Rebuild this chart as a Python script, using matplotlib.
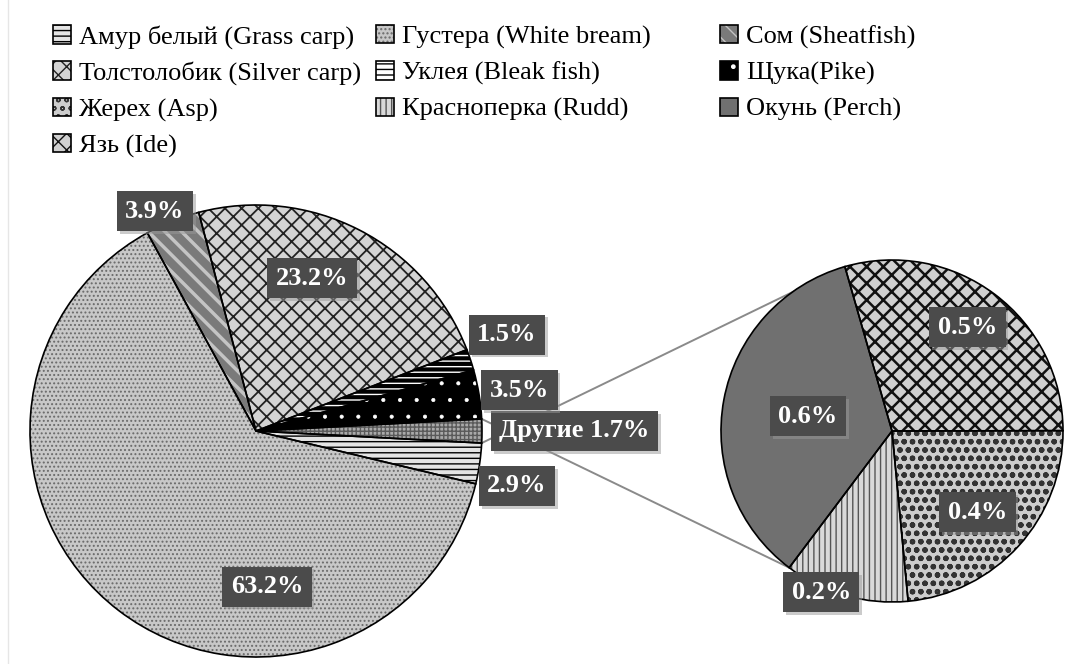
import numpy as np
import matplotlib.pyplot as plt
import matplotlib.patheffects as pe

plt.rcParams['font.family'] = 'serif'
plt.rcParams['font.serif'] = ['Liberation Serif', 'DejaVu Serif']

# main pie, counterclockwise starting from the "other" slice
main_names = ["Другие", "Щука(Pike)", "Уклея (Bleak fish)", "Толстолобик (Silver carp)",
              "Сом (Sheatfish)", "Густера (White bream)", "Амур белый (Grass carp)"]
main_values = [1.7, 3.5, 1.5, 23.2, 3.9, 63.2, 2.9]

# secondary pie ("other" split), clockwise
sub_names = ["Язь (Ide)", "Жерех (Asp)", "Красноперка (Rudd)", "Окунь (Perch)"]
sub_values = [0.5, 0.4, 0.2, 0.6]

legend_cols = [
    ["Амур белый (Grass carp)", "Толстолобик (Silver carp)", "Жерех (Asp)", "Язь (Ide)"],
    ["Густера (White bream)", "Уклея (Bleak fish)", "Красноперка (Rudd)"],
    ["Сом (Sheatfish)", "Щука(Pike)", "Окунь (Perch)"],
]

# face colour, hatch, hatch colour, hatch linewidth
styles = {
    "Другие": ("#a9a9a9", "++++", "#5a5a5a", 1.0),
    "Щука(Pike)": ("#000000", ".", "#ffffff", 0.5),
    "Уклея (Bleak fish)": ("#ffffff", "---", "#000000", 3.0),
    "Толстолобик (Silver carp)": ("#d4d4d4", "xx", "#222222", 1.3),
    "Сом (Sheatfish)": ("#7a7a7a", r"\\", "#c4c4c4", 2.5),
    "Густера (White bream)": ("#c8c8c8", "....", "#6a6a6a", 0.9),
    "Амур белый (Grass carp)": ("#e4e4e4", "---", "#000000", 1.0),
    "Язь (Ide)": ("#d0d0d0", r"//\\", "#111111", 1.8),
    "Жерех (Asp)": ("#cdcdcd", "oo", "#333333", 1.6),
    "Красноперка (Rudd)": ("#d9d9d9", "|||", "#555555", 1.0),
    "Окунь (Perch)": ("#707070", "", "#707070", 1.0),
}

# label placement: (angle in degrees, distance as fraction of radius)
main_label_pos = [(0, 1.41), (8.8, 1.18), (21, 1.19), (69.8, 0.72), (114.7, 1.07), (-86, 0.69), (-11.9, 1.18)]
sub_label_pos = [(54, 0.75), (-43.6, 0.69), (-113.7, 1.03), (170, 0.5)]

W, H = 1069, 664
fig = plt.figure(figsize=(W / 100, H / 100), dpi=100)
ax = fig.add_axes([0, 0, 1, 1])

main_c, main_r = (256, 233), 226
sub_c, sub_r = (892, 233), 171


def layered_pie(values, names, center, radius, start, ccw):
    kw = dict(center=center, radius=radius, startangle=start, counterclock=ccw)
    base, _ = ax.pie(values, colors=[styles[n][0] for n in names],
                     wedgeprops=dict(linewidth=0), **kw)
    hatch, _ = ax.pie(values, wedgeprops=dict(facecolor='none', linewidth=0), **kw)
    for w, n in zip(hatch, names):
        face, h, hc, hlw = styles[n]
        w.set_edgecolor(hc)
        w.set_hatch(h)
        if hasattr(w, 'set_hatch_linewidth'):
            w.set_hatch_linewidth(hlw)
    outline, _ = ax.pie(values, wedgeprops=dict(facecolor='none', edgecolor='black', linewidth=1.2), **kw)
    for w in base:
        w.set_zorder(1)
    for w in hatch:
        w.set_zorder(2)
    for w in outline:
        w.set_zorder(3)
    return base, hatch, outline


main_start = -main_values[0] / sum(main_values) * 360 / 2
mb, mh, mo = layered_pie(main_values, main_names, main_c, main_r, main_start, True)
sb, sh, so = layered_pie(sub_values, sub_names, sub_c, sub_r, 106, False)

handles = {}
for n, b, h, o in zip(main_names + sub_names, mb + sb, mh + sh, mo + so):
    handles[n] = (b, h, o)

# connector lines from the "other" slice to the secondary pie
other = mb[0]
perch = sb[3]
for a_main, a_sub in [(other.theta2, perch.theta2), (other.theta1, perch.theta1)]:
    x0 = main_c[0] + main_r * np.cos(np.radians(a_main))
    y0 = main_c[1] + main_r * np.sin(np.radians(a_main))
    x1 = sub_c[0] + sub_r * np.cos(np.radians(a_sub))
    y1 = sub_c[1] + sub_r * np.sin(np.radians(a_sub))
    ax.plot([x0, x1], [y0, y1], color='#8a8a8a', lw=1.4, zorder=0.5)


def add_label(text, center, radius, ang, dist):
    x = center[0] + radius * dist * np.cos(np.radians(ang))
    y = center[1] + radius * dist * np.sin(np.radians(ang))
    t = ax.text(x, y, text, ha='center', va='center', color='white', fontsize=19,
                fontweight='bold', zorder=5,
                bbox=dict(boxstyle='square,pad=0.32', facecolor='#4b4b4b', edgecolor='none'))
    t.get_bbox_patch().set_path_effects([pe.withSimplePatchShadow(offset=(2, -2), shadow_rgbFace='#999999', alpha=0.5),
                                         pe.Normal()])


for i, (n, v) in enumerate(zip(main_names, main_values)):
    txt = f"{v:.1f}%" if i > 0 else f"Другие {v:.1f}%"
    add_label(txt, main_c, main_r, *main_label_pos[i])
for i, (n, v) in enumerate(zip(sub_names, sub_values)):
    add_label(f"{v:.1f}%", sub_c, sub_r, *sub_label_pos[i])

ax.set_xlim(0, W)
ax.set_ylim(0, H)
ax.set_aspect('equal')
ax.axis('off')

col_x = [53, 376, 720]
for x, col in zip(col_x, legend_cols):
    fig.legend([handles[n] for n in col], col, loc='upper left',
               bbox_to_anchor=(x / W, 1 - 25 / H), bbox_transform=fig.transFigure,
               frameon=False, fontsize=19, borderpad=0, borderaxespad=0,
               handlelength=0.7, handleheight=0.7, handletextpad=0.3, labelspacing=0.47)

fig.add_artist(plt.Line2D([8 / W, 8 / W], [0, 1], color='#e6e6e6', lw=1))

fig.savefig('out.png', dpi=100)
